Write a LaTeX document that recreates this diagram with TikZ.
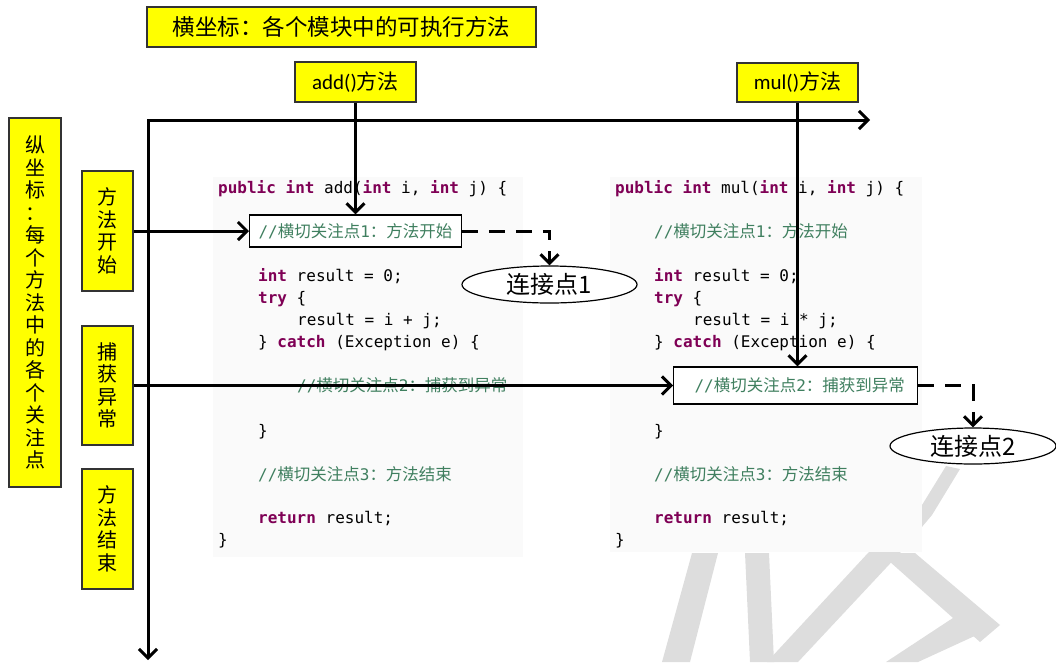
\documentclass[tikz,border=0pt]{standalone}
\usepackage{fontspec}
\setmonofont{DejaVu Sans Mono}
\newfontfamily\cjk{Noto Sans CJK SC}
\newfontfamily\cjkcode[Scale=1.03]{Noto Sans CJK SC}
\newfontfamily\calib{Carlito}
\usetikzlibrary{arrows.meta,shapes.geometric}
\definecolor{lblyellow}{RGB}{255,255,0}
\definecolor{kwcol}{RGB}{127,0,85}
\definecolor{cmtcol}{RGB}{63,127,95}
\definecolor{codebg}{RGB}{250,250,250}
\definecolor{wmark}{RGB}{221,221,221}
\newcommand{\kw}[1]{\textbf{\color{kwcol}#1}}
\newcommand{\zh}[1]{{\cjkcode #1}}
\newcommand{\cmt}[2]{{\color{cmtcol}//\zh{横切关注点}#1\zh{：#2}}}
\begin{document}
\begin{tikzpicture}[x=1pt,y=-1pt,
  >={Straight Barb[length=9pt,width=18pt]},
  lbl/.style={draw=black!80,line width=1.2pt,fill=lblyellow,inner sep=0pt},
  vlbl/.style={lbl,align=center,font=\cjk\fontsize{20}{22.5}\selectfont},
  axis/.style={line width=3pt},
  link/.style={line width=3pt,dash pattern=on 16pt off 11pt},
  code/.style={anchor=base west,inner sep=0pt,font=\ttfamily\fontsize{16}{20}\selectfont},
  point/.style={draw,line width=1.2pt,fill=white,anchor=west,inner ysep=0pt,
    font=\ttfamily\fontsize{16}{20}\selectfont},
  joinpt/.style={ellipse,draw,line width=1.2pt,fill=white,inner sep=0pt,
    font=\cjk\fontsize{24}{24}\selectfont}]
\useasboundingbox (0,0) rectangle (1056,662);
% watermark
\fill[wmark] (692,553) -- (718,553) -- (690,662) -- (662,662) -- cycle;
\fill[wmark] (745,553) -- (769,553) -- (774,662) -- (750,662) -- cycle;
\fill[wmark] (946,466) -- (960,469) -- (932,515) -- (900,553) -- (798,662)
  -- (767,662) -- (868,553) -- (922,505) -- cycle;
\fill[wmark] (880,553) -- (915,553) -- (1000,625) -- (980,642) -- cycle;
\fill[wmark] (962,612) -- (992,628) -- (918,662) -- (886,662) -- cycle;
% code blocks
\fill[codebg] (213,177) rectangle (523,557);
\fill[codebg] (610,177) rectangle (922,552);
\foreach \x/\y/\t in {
  218/193/{\kw{public} \kw{int} add(\kw{int} i, \kw{int} j) \{},
  258/281/{\kw{int} result = 0;},
  258/303/{\kw{try} \{},
  297/325/{result = i + j;},
  258/347/{\} \kw{catch} (Exception e) \{},
  297/391/{\cmt{2}{捕获到异常}},
  258/436/{\}},
  258/480/{\cmt{3}{方法结束}},
  258/523/{\kw{return} result;},
  218/545/{\}}}
  \node[code] (addl\y) at (\x,\y) {\t};
\foreach \x/\y/\t in {
  615/193/{\kw{public} \kw{int} mul(\kw{int} i, \kw{int} j) \{},
  654/237/{\cmt{1}{方法开始}},
  654/281/{\kw{int} result = 0;},
  654/303/{\kw{try} \{},
  693/325/{result = i * j;},
  654/347/{\} \kw{catch} (Exception e) \{},
  654/436/{\}},
  654/480/{\cmt{3}{方法结束}},
  654/523/{\kw{return} result;},
  615/545/{\}}}
  \node[code] (mull\y) at (\x,\y) {\t};
% labels
\node[lbl,minimum width=389pt,minimum height=40pt,font=\cjk\fontsize{22.5}{24}\selectfont]
  (xtitle) at (341.5,27) {横坐标：各个模块中的可执行方法};
\node[lbl,minimum width=121pt,minimum height=40pt,font=\cjk\fontsize{21}{24}\selectfont]
  (add) at (355.5,82) {{\calib add()}方法};
\node[lbl,minimum width=121pt,minimum height=39pt,font=\cjk\fontsize{21}{24}\selectfont]
  (mul) at (797.5,82.5) {{\calib mul()}方法};
\node[vlbl,minimum width=52pt,minimum height=369pt] (ytitle) at (35,302.5)
  {纵\\坐\\标\\：\\每\\个\\方\\法\\中\\的\\各\\个\\关\\注\\点};
\node[vlbl,minimum width=51pt,minimum height=120pt] (s1) at (107.5,231) {方\\法\\开\\始};
\node[vlbl,minimum width=51pt,minimum height=119pt] (s2) at (107.5,385.5) {捕\\获\\异\\常};
\node[vlbl,minimum width=51pt,minimum height=120pt] (s3) at (107.5,529) {方\\法\\结\\束};
% cross-cutting points and join points
\node[point,minimum height=32pt,inner xsep=9pt] (p1) at (249,231) {\cmt{1}{方法开始}};
\node[point,minimum height=37pt,inner xsep=13pt] (p2) at (673,385.5)
  {\hspace*{8pt}\cmt{2}{捕获到异常}};
\node[joinpt,minimum width=175pt,minimum height=37pt] (j1) at (549.5,284.5) {连接点1};
\node[joinpt,minimum width=166pt,minimum height=36pt] (j2) at (973,446) {连接点2};
% axes
\coordinate (o) at (148,120);
\coordinate (xe) at (870,120);
\coordinate (ye) at (148,660);
\draw[axis,<->] (xe) -- (o) -- (ye);
\draw[axis,->] (add) -- (add |- p1.north);
\draw[axis,->] (mul) -- (mul |- p2.north);
\draw[axis,->] (s1) -- (s1 -| p1.west);
\draw[axis,->] (s2) -- (s2 -| p2.west);
\draw[link,->] (p1) -| (j1);
\draw[link,->] (p2) -| (j2);
\end{tikzpicture}
\end{document}
